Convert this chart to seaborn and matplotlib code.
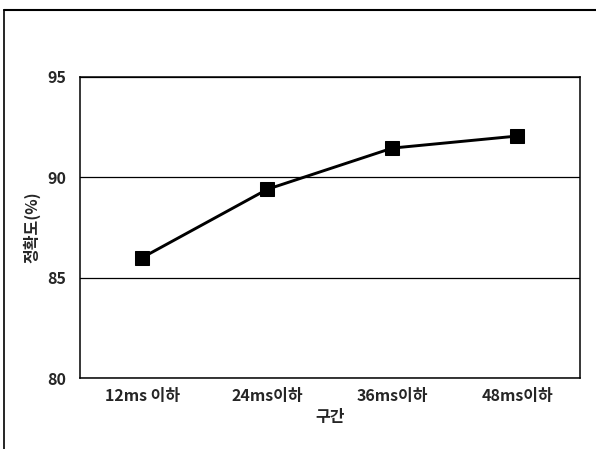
import matplotlib
matplotlib.use("Agg")
import matplotlib.pyplot as plt
import seaborn as sns
import pandas as pd
from matplotlib.lines import Line2D

# 데이터
구간 = ["12ms 이하", "24ms이하", "36ms이하", "48ms이하"]
정확도 = [86.0, 89.4, 91.45, 92.05]
y_ticks = [80, 85, 90, 95]

sns.set_style("white")
plt.rcParams["font.family"] = ["Noto Sans CJK KR", "DejaVu Sans"]

df = pd.DataFrame({"구간": 구간, "정확도": 정확도})

fig = plt.figure(figsize=(5.96, 4.49), dpi=100)
ax = fig.add_axes([0.134, 0.158, 0.839, 0.671])

sns.lineplot(data=df, x="구간", y="정확도", ax=ax, color="black",
             linewidth=2.1, marker="s", markersize=9.5,
             markeredgecolor="black", markerfacecolor="black", sort=False)

ax.set_xlim(-0.5, len(구간) - 0.5)
ax.set_ylim(80, 95)
ax.set_yticks(y_ticks)
ax.yaxis.grid(True, color="black", linewidth=0.9)
ax.set_axisbelow(True)
for s in ax.spines.values():
    s.set_color("black")
    s.set_linewidth(1.1)
ax.tick_params(axis="both", length=0, labelsize=11.5)
ax.tick_params(axis="x", pad=7)
ax.tick_params(axis="y", pad=10)
for lbl in ax.get_xticklabels() + ax.get_yticklabels():
    lbl.set_fontweight("bold")
ax.set_xlabel("구간", fontsize=11.5, fontweight="bold", labelpad=4)
ax.set_ylabel("정확도(%)", fontsize=11.5, fontweight="bold", labelpad=5)

# 바깥 테두리
fig.add_artist(Line2D([0.007, 1.0], [0.978, 0.978], transform=fig.transFigure,
                      color="black", linewidth=1.5))
fig.add_artist(Line2D([0.007, 0.007], [0.0, 0.978], transform=fig.transFigure,
                      color="black", linewidth=1.2))

plt.savefig("out.png", dpi=100)
plt.close()
